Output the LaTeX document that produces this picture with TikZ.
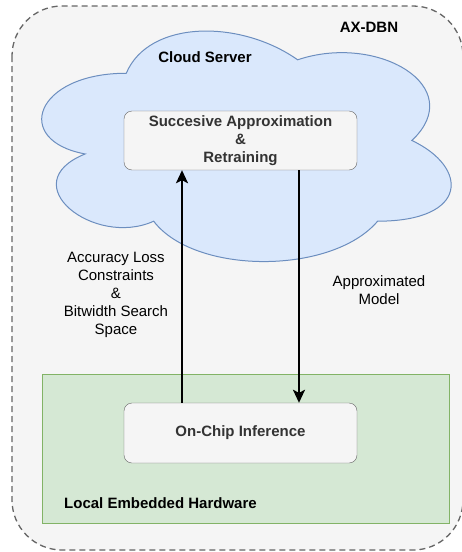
\documentclass[tikz,border=0pt]{standalone}
\usepackage{fontspec}
\setmainfont{Liberation Sans}
\usetikzlibrary{arrows.meta}
\definecolor{boxfill}{HTML}{F5F5F5}
\definecolor{boxline}{HTML}{666666}
\definecolor{boxtext}{HTML}{333333}
\definecolor{cloudfill}{HTML}{DAE8FC}
\definecolor{cloudline}{HTML}{6C8EBF}
\definecolor{hwfill}{HTML}{D5E8D4}
\definecolor{hwline}{HTML}{82B366}
\newcommand{\diagfont}{\fontsize{15}{18}\selectfont}
\tikzset{
  stage/.style={draw=boxline,fill=boxfill,rounded corners=8pt,text=boxtext,
    font=\diagfont\bfseries,align=center,minimum width=233pt,inner sep=0pt},
  flow/.style={line width=2pt,-{Stealth[length=13pt,width=12pt,inset=3pt]}},
  lbl/.style={align=center,inner sep=0pt},
  title/.style={font=\diagfont\bfseries,inner sep=0pt}
}
\begin{document}
\begin{tikzpicture}[x=1pt,y=-1pt,font=\diagfont]
  \useasboundingbox (0,0) rectangle (462,552);
  %rami
  \draw[boxline,fill=boxfill,line width=1.3pt,dash pattern=on 6pt off 4pt,rounded corners=50pt]
    (12,6) rectangle (463,550);
  %nuvola
  \begin{scope}[shift={(12,6)},x=457pt,y=-269pt]
    \draw[cloudline,fill=cloudfill,line width=1pt]
      (0.25,0.25) .. controls (0.05,0.25) and (0,0.5) .. (0.16,0.55)
      .. controls (0,0.66) and (0.18,0.9) .. (0.31,0.8)
      .. controls (0.4,1) and (0.7,1) .. (0.8,0.8)
      .. controls (1,0.8) and (1,0.6) .. (0.875,0.5)
      .. controls (1,0.3) and (0.8,0.1) .. (0.625,0.2)
      .. controls (0.5,0.05) and (0.3,0.05) .. cycle;
  \end{scope}
  \draw[hwline,fill=hwfill,line width=1pt] (42,374) rectangle (449,523);
  %blocchi
  \node[stage,minimum height=59pt] (approx) at (240.5,140.5)
    {Succesive Approximation\\\&\\Retraining};
  \node[stage,minimum height=60pt] (onchip) at (240.5,433) {On-Chip Inference};
  %frecce
  \coordinate (upx) at (182,0);
  \coordinate (downx) at (299,0);
  \draw[flow] (onchip.north -| upx) -- (approx.south -| upx);
  \draw[flow] (approx.south -| downx) -- (onchip.north -| downx);
  %etichette
  \node[title] (axdbn) at (369,27) {AX-DBN};
  \node[title] (cloud) at (205,57) {Cloud Server};
  \node[title,anchor=west] (local) at (64,503) {Local Embedded Hardware};
  \node[lbl] (constr) at (116,295)
    {Accuracy Loss\\Constraints\\\&\\Bitwidth Search\\Space};
  \node[lbl] (model) at (379,290) {Approximated\\Model};
\end{tikzpicture}
\end{document}
